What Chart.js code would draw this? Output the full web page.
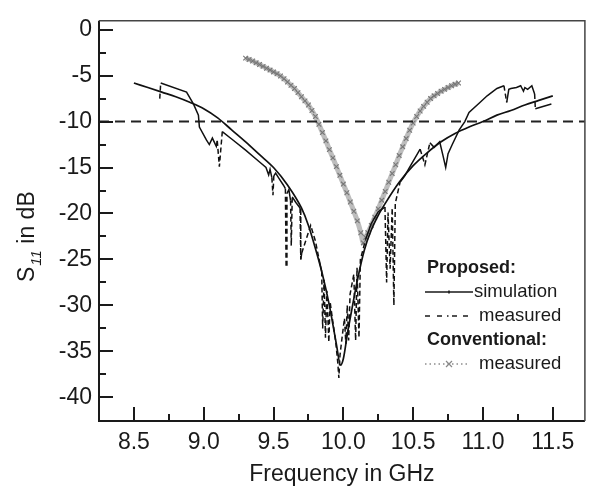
<!DOCTYPE html>
<html>
<head>
<meta charset="utf-8">
<title>S11 vs frequency</title>
<script src="https://cdn.jsdelivr.net/npm/chart.js@4.4.0/dist/chart.umd.min.js"></script>
<style>
  html, body { margin: 0; padding: 0; background: #fff; }
  #wrap { width: 590px; height: 488px; }
</style>
</head>
<body>
<div id="wrap"><canvas id="s11Chart" width="590" height="488"></canvas></div>
<script>
// ============================================
// Return loss S11 – proposed vs conventional
// ============================================

// === AXES ===
const freqRange = [8.25, 11.73];
const dbRange = [-42.57, 0.96];
const xTicks = [8.5, 9.0, 9.5, 10.0, 10.5, 11.0, 11.5];
const xMinorTicks = [8.75, 9.25, 9.75, 10.25, 10.75, 11.25];
const yTicks = [0, -5, -10, -15, -20, -25, -30, -35, -40];
const yMinorTicks = [-2.5, -7.5, -12.5, -17.5, -22.5, -27.5, -32.5, -37.5];
const thresholdDb = -10;

// === PROPOSED: SIMULATION ===
const simFreq = [8.50, 8.60, 8.70, 8.80, 8.90, 9.00, 9.10, 9.20, 9.30, 9.40, 9.50, 9.60, 9.70, 9.75,
    9.80, 9.85, 9.90, 9.95, 9.98, 10.00, 10.03, 10.06, 10.10, 10.15, 10.20, 10.25, 10.30, 10.40,
    10.50, 10.60, 10.70, 10.80, 10.90, 11.00, 11.10, 11.20, 11.30, 11.40, 11.50];
const simDb = [-5.8, -6.3, -6.8, -7.3, -7.9, -8.6, -9.6, -10.9, -12.2, -13.6, -15.0, -16.9, -19.4, -21.3,
    -23.8, -26.6, -30.0, -34.2, -36.5, -35.8, -33.0, -30.5, -27.3, -24.0, -21.8, -20.2, -18.9, -16.6,
    -14.8, -13.4, -12.2, -11.3, -10.6, -10.0, -9.3, -8.8, -8.2, -7.7, -7.2];

// === PROPOSED: MEASURED ===
const measFreq = [8.685, 8.692, 8.877, 8.927, 8.962, 8.969, 9.019, 9.040, 9.062, 9.090, 9.097, 9.112,
    9.133, 9.200, 9.300, 9.400, 9.446, 9.465, 9.475, 9.488, 9.496, 9.502, 9.515, 9.540, 9.570, 9.585,
    9.590, 9.596, 9.610, 9.622, 9.627, 9.634, 9.660, 9.690, 9.695, 9.702, 9.766, 9.800, 9.825, 9.845,
    9.852, 9.862, 9.872, 9.882, 9.896, 9.905, 9.925, 9.945, 9.960, 9.968, 9.976, 9.990, 10.008, 10.018,
    10.028, 10.038, 10.048, 10.075, 10.088, 10.098, 10.112, 10.122, 10.160, 10.200, 10.250, 10.298,
    10.310, 10.320, 10.335, 10.350, 10.362, 10.372, 10.406, 10.440, 10.470, 10.550, 10.584, 10.620,
    10.650, 10.690, 10.712, 10.733, 10.750, 10.780, 10.830, 10.870, 10.900, 10.980, 11.030, 11.100,
    11.150, 11.170, 11.185, 11.200, 11.240, 11.270, 11.290, 11.300, 11.320, 11.350, 11.370, 11.375, 11.490];
const measDb = [-7.5, -5.8, -6.8, -8.1, -9.3, -10.6, -12.0, -12.5, -11.8, -12.7, -12.1, -14.9,
    -11.1, -11.9, -13.1, -14.4, -15.0, -15.8, -15.2, -16.1, -18.0, -15.9, -15.6, -16.2, -16.9, -17.3,
    -25.8, -17.8, -17.4, -18.6, -23.5, -18.2, -18.8, -19.4, -25.0, -24.3, -21.3, -23.0, -24.9, -26.3,
    -32.5, -27.2, -33.5, -28.4, -34.0, -29.6, -31.8, -33.9, -36.2, -37.9, -35.4, -33.6, -31.4, -34.2,
    -30.0, -33.8, -28.8, -26.6, -33.8, -25.9, -33.5, -25.0, -22.8, -21.1, -19.8, -19.3,
    -27.5, -19.9, -26.0, -19.4, -30.0, -18.9, -16.6, -15.9, -15.1, -13.0, -14.7, -12.3,
    -12.8, -12.2, -13.6, -15.0, -13.5, -12.5, -10.9, -10.0, -9.0, -7.9, -7.2, -6.4,
    -6.1, -7.9, -6.5, -6.4, -6.3, -6.1, -6.7, -6.3, -6.5, -6.1, -7.0, -8.6, -8.1];

// === CONVENTIONAL: MEASURED ===
const convFreq = [9.300, 9.325, 9.350, 9.375, 9.400, 9.425, 9.450, 9.475, 9.500, 9.525, 9.550, 9.575,
    9.600, 9.625, 9.650, 9.675, 9.700, 9.725, 9.750, 9.775, 9.800, 9.825, 9.850, 9.875, 9.900, 9.925,
    9.950, 9.975, 10.000, 10.025, 10.050, 10.075, 10.100, 10.125, 10.143, 10.160, 10.175, 10.200,
    10.225, 10.250, 10.275, 10.300, 10.325, 10.350, 10.375, 10.400, 10.425, 10.450, 10.475, 10.500,
    10.525, 10.550, 10.575, 10.600, 10.625, 10.650, 10.675, 10.700, 10.725, 10.750, 10.775, 10.800, 10.825];
const convDb = [-3.10, -3.25, -3.42, -3.60, -3.80, -4.00, -4.20, -4.40, -4.60, -4.80, -5.05, -5.35,
    -5.70, -6.05, -6.40, -6.85, -7.30, -7.75, -8.20, -8.80, -9.45, -10.30, -11.20, -12.10, -13.05, -13.95,
    -14.90, -15.85, -16.80, -17.75, -18.75, -19.75, -20.80, -22.10, -23.20, -22.60, -22.10, -21.30,
    -20.40, -19.50, -18.55, -17.60, -16.60, -15.65, -14.70, -13.70, -12.75, -11.85, -10.95, -10.15,
    -9.45, -8.85, -8.35, -7.90, -7.50, -7.20, -6.95, -6.70, -6.50, -6.30, -6.10, -5.95, -5.80];

// === STYLE ===
const FONT = "'Liberation Sans', Arial, Helvetica, sans-serif";
const INK = '#1a1a1a';

function toPoints(xs, ys) {
    return xs.map((x, i) => ({ x: x, y: ys[i] }));
}

// long steep jumps of the measured trace are dashed, short pieces stay solid
function spikeDash(ctx) {
    const dx = ctx.p1.x - ctx.p0.x;
    const dy = ctx.p1.y - ctx.p0.y;
    if (Math.hypot(dx, dy) > 14 && Math.abs(dy) > 3 * Math.abs(dx)) {
        return [5, 3];
    }
    return undefined;
}

// === FRAME + INWARD TICKS ===
const framePlugin = {
    id: 'frame',
    afterDraw(chart) {
        const { ctx, chartArea: a, scales: { x, y } } = chart;
        ctx.save();
        ctx.strokeStyle = INK;
        ctx.lineWidth = 2;

        ctx.beginPath();
        xTicks.forEach(v => {
            const px = Math.round(x.getPixelForValue(v));
            ctx.moveTo(px, a.bottom); ctx.lineTo(px, a.bottom - 14);
        });
        xMinorTicks.forEach(v => {
            const px = Math.round(x.getPixelForValue(v));
            ctx.moveTo(px, a.bottom); ctx.lineTo(px, a.bottom - 7);
        });
        yTicks.forEach(v => {
            const py = Math.round(y.getPixelForValue(v));
            ctx.moveTo(a.left, py); ctx.lineTo(a.left + 14, py);
        });
        yMinorTicks.forEach(v => {
            const py = Math.round(y.getPixelForValue(v));
            ctx.moveTo(a.left, py); ctx.lineTo(a.left + 7, py);
        });
        ctx.stroke();

        // left + bottom axis lines
        ctx.beginPath();
        ctx.moveTo(a.left, a.top);
        ctx.lineTo(a.left, a.bottom);
        ctx.lineTo(a.right, a.bottom);
        ctx.stroke();

        // top + right border, a bit lighter
        ctx.strokeStyle = '#444';
        ctx.lineWidth = 1.5;
        ctx.beginPath();
        ctx.moveTo(a.left, a.top);
        ctx.lineTo(a.right, a.top);
        ctx.lineTo(a.right, a.bottom);
        ctx.stroke();
        ctx.restore();
    }
};

// === Y TITLE (S with subscript 11) ===
const yTitlePlugin = {
    id: 'yTitle',
    afterDraw(chart) {
        const ctx = chart.ctx;
        ctx.save();
        ctx.translate(34, 282);
        ctx.rotate(-Math.PI / 2);
        ctx.fillStyle = INK;
        ctx.textBaseline = 'alphabetic';
        ctx.font = '23px ' + FONT;
        ctx.fillText('S', 0, 0);
        let w = ctx.measureText('S').width + 1;
        ctx.font = 'italic 15px ' + FONT;
        ctx.fillText('11', w, 7);
        w += ctx.measureText('11').width;
        ctx.font = '23px ' + FONT;
        ctx.fillText(' in dB', w, 0);
        ctx.restore();
    }
};

// === LEGEND ===
const legendPlugin = {
    id: 'sideLegend',
    afterDraw(chart) {
        const ctx = chart.ctx;
        ctx.save();
        ctx.fillStyle = INK;
        ctx.textBaseline = 'middle';
        ctx.font = 'bold 18px ' + FONT;
        ctx.fillText('Proposed:', 427, 268);
        ctx.fillText('Conventional:', 427, 340);
        ctx.font = '18.5px ' + FONT;
        ctx.fillText('simulation', 474, 292);
        ctx.fillText('measured', 479, 316);
        ctx.fillText('measured', 479, 364);

        ctx.strokeStyle = INK;
        ctx.lineWidth = 1.6;
        // simulation sample
        ctx.beginPath();
        ctx.moveTo(425, 292); ctx.lineTo(473, 292);
        ctx.moveTo(449, 290.5); ctx.lineTo(449, 293.5);
        ctx.stroke();
        // measured sample (dash, dash, dot, dash, dash)
        ctx.beginPath();
        [[425, 430], [437, 442], [447, 448.5], [452, 457], [463, 468]].forEach(s => {
            ctx.moveTo(s[0], 316); ctx.lineTo(s[1], 316);
        });
        ctx.stroke();
        // conventional sample: dotted with a cross
        ctx.strokeStyle = '#555';
        ctx.lineWidth = 1.2;
        ctx.setLineDash([1.5, 3]);
        ctx.beginPath();
        ctx.moveTo(425, 364); ctx.lineTo(469, 364);
        ctx.stroke();
        ctx.setLineDash([]);
        ctx.strokeStyle = '#888';
        ctx.beginPath();
        ctx.moveTo(446, 361); ctx.lineTo(452, 367);
        ctx.moveTo(452, 361); ctx.lineTo(446, 367);
        ctx.stroke();
        ctx.restore();
    }
};

// === CHART ===
const tickFont = { family: FONT, size: 23 };

new Chart(document.getElementById('s11Chart'), {
    type: 'scatter',
    data: {
        datasets: [
            {
                label: 'Proposed: simulation',
                data: toPoints(simFreq, simDb),
                showLine: true,
                borderColor: '#111',
                borderWidth: 1.7,
                pointRadius: 0,
                cubicInterpolationMode: 'monotone'
            },
            {
                label: 'Proposed: measured',
                data: toPoints(measFreq, measDb),
                showLine: true,
                borderColor: '#111',
                borderWidth: 1.5,
                pointRadius: 0,
                tension: 0,
                segment: { borderDash: spikeDash }
            },
            {
                label: '-10 dB',
                data: freqRange.map(f => ({ x: f, y: thresholdDb })),
                showLine: true,
                borderColor: '#222',
                borderWidth: 2,
                borderDash: [10, 6],
                pointRadius: 0
            },
            {
                // dense crosses over a light band
                label: 'Conventional: measured',
                data: toPoints(convFreq, convDb),
                showLine: true,
                borderColor: '#bdbdbd',
                borderWidth: 5,
                pointStyle: 'crossRot',
                pointRadius: 3.3,
                pointBorderWidth: 1.1,
                pointBorderColor: '#767676',
                cubicInterpolationMode: 'monotone'
            }
        ]
    },
    options: {
        responsive: false,
        animation: false,
        layout: { padding: { top: 14, right: 2, left: 0, bottom: 0 } },
        plugins: {
            legend: { display: false },
            tooltip: { enabled: false }
        },
        scales: {
            x: {
                type: 'linear',
                min: freqRange[0],
                max: freqRange[1],
                afterBuildTicks: s => { s.ticks = xTicks.map(v => ({ value: v })); },
                afterFit: s => { s.height = 67; },
                grid: { display: false, drawTicks: false },
                border: { display: false },
                ticks: {
                    font: tickFont,
                    color: INK,
                    padding: 8,
                    maxRotation: 0,
                    autoSkip: false,
                    callback: v => Number(v).toFixed(1)
                },
                title: {
                    display: true,
                    text: 'Frequency in GHz',
                    font: tickFont,
                    color: INK,
                    padding: 0
                }
            },
            y: {
                type: 'linear',
                min: dbRange[0],
                max: dbRange[1],
                afterBuildTicks: s => { s.ticks = yTicks.map(v => ({ value: v })); },
                afterFit: s => { s.width = 99; },
                grid: { display: false, drawTicks: false },
                border: { display: false },
                ticks: {
                    font: tickFont,
                    color: INK,
                    padding: 7,
                    callback: v => String(v)
                }
            }
        }
    },
    plugins: [framePlugin, yTitlePlugin, legendPlugin]
});
</script>
</body>
</html>
